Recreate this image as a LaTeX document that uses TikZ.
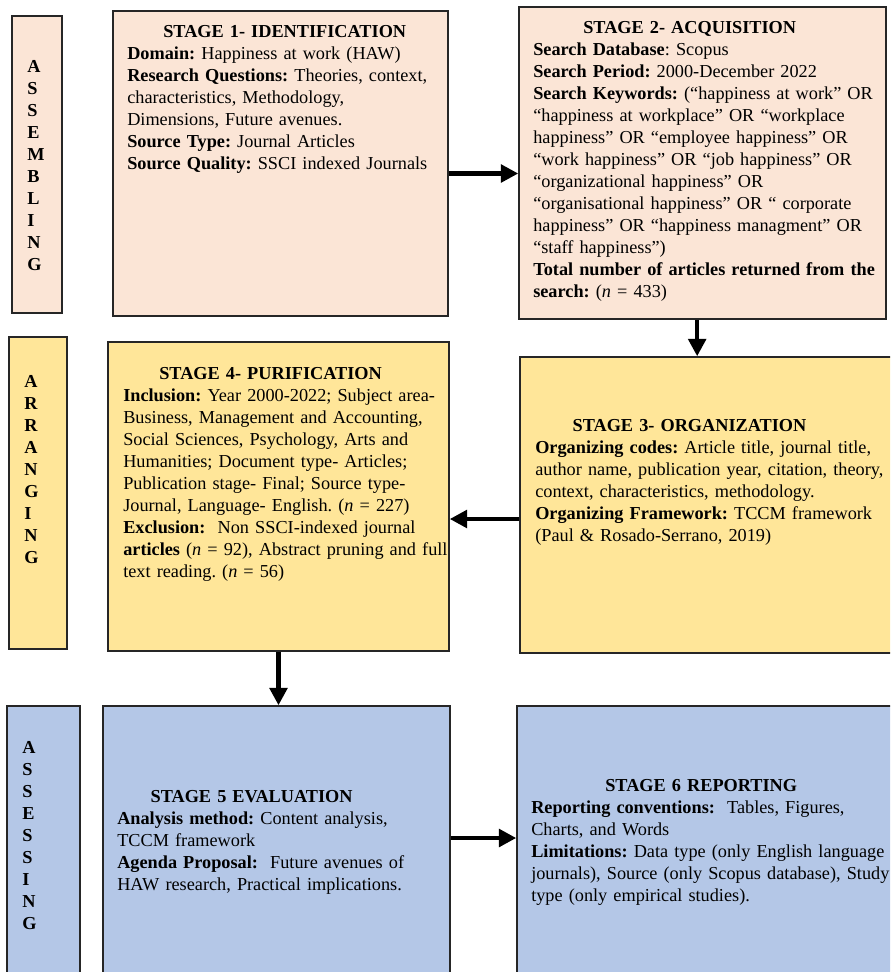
\documentclass[tikz,border=0pt]{standalone}
\usepackage{fontspec}
\setmainfont{Liberation Serif}
\usetikzlibrary{fit,arrows.meta}
\definecolor{peach}{HTML}{FBE5D6}
\definecolor{gold}{HTML}{FFE699}
\definecolor{skyblue}{HTML}{B4C7E7}

\begin{document}
\begin{tikzpicture}[x=0.75pt, y=-0.75pt,
			every node/.style = {font=\fontsize{13.7}{16.5}\selectfont\frenchspacing},
			stagebox/.style = {draw=black!85, line width=1.1pt, inner sep=0pt},
			stagetext/.style = {anchor=base west, align=left, text width=300pt, inner sep=0pt},
			phase/.style = {anchor=base west, align=left, text width=20pt, inner sep=0pt, font=\fontsize{13.7}{16.5}\selectfont\bfseries},
			flow/.style = {line width=3.4pt, -{Triangle[length=13pt,width=13pt]}}]
			\useasboundingbox (0,0) rectangle (890,972);
			\clip (0,0) rectangle (890,972);
			% phase boxes on the left
			\node[stagebox, fill=peach, fit={(12,16) (62,313)}] (asm) {};
			\node[stagebox, fill=gold, fit={(9,337) (67,649)}] (arr) {};
			\node[stagebox, fill=skyblue, fit={(7,706) (80,995)}] (ass) {};
			\node[phase] (asmtxt) at (27,72) {A\\S\\S\\E\\M\\B\\L\\I\\N\\G};
			\node[phase] (arrtxt) at (24,387) {A\\R\\R\\A\\N\\G\\I\\N\\G};
			\node[phase] (asstxt) at (22,753) {A\\S\\S\\E\\S\\S\\I\\N\\G};
			% stage boxes
			\node[stagebox, fill=peach, fit={(113,11) (448,316)}] (s1) {};
			\node[stagebox, fill=peach, fit={(519,7) (886,319)}] (s2) {};
			\node[stagebox, fill=gold, fit={(520,357) (895,653)}] (s3) {};
			\node[stagebox, fill=gold, fit={(108,342) (449,651)}] (s4) {};
			\node[stagebox, fill=skyblue, fit={(103,706) (450,995)}] (s5) {};
			\node[stagebox, fill=skyblue, fit={(517,706) (895,995)}] (s6) {};
			\node[stagetext] (s1txt) at (127,37) {\hspace*{27pt}\textbf{STAGE 1- IDENTIFICATION}\\
				\textbf{Domain:} Happiness at work (HAW)\\
				\textbf{Research Questions:} Theories, context,\\
				characteristics, Methodology,\\
				Dimensions, Future avenues.\\
				\textbf{Source Type:} Journal Articles\\
				\textbf{Source Quality:} SSCI indexed Journals};
			\node[stagetext] (s2txt) at (533,33) {\hspace*{37.5pt}\textbf{STAGE 2- ACQUISITION}\\
				\textbf{Search Database}: Scopus\\
				\textbf{Search Period:} 2000-December 2022\\
				\textbf{Search Keywords:} (“happiness at work” OR\\
				“happiness at workplace” OR “workplace\\
				happiness” OR “employee happiness” OR\\
				“work happiness” OR “job happiness” OR\\
				“organizational happiness” OR\\
				“organisational happiness” OR “ corporate\\
				happiness” OR “happiness managment” OR\\
				“staff happiness”)\\
				\textbf{Total number of articles returned from the}\\
				\textbf{search:} (\textit{n} = 433)};
			\node[stagetext] (s3txt) at (535,431) {\hspace*{28pt}\textbf{STAGE 3- ORGANIZATION}\\
				\textbf{Organizing codes:} Article title, journal title,\\
				author name, publication year, citation, theory,\\
				context, characteristics, methodology.\\
				\textbf{Organizing Framework:} TCCM framework\\
				(Paul \& Rosado-Serrano, 2019)};
			\node[stagetext] (s4txt) at (123,379) {\hspace*{27pt}\textbf{STAGE 4- PURIFICATION}\\
				\textbf{Inclusion:} Year 2000-2022; Subject area-\\
				Business, Management and Accounting,\\
				Social Sciences, Psychology, Arts and\\
				Humanities; Document type- Articles;\\
				Publication stage- Final; Source type-\\
				Journal, Language- English. (\textit{n} = 227)\\
				\textbf{Exclusion:}\ \ Non SSCI-indexed journal\\
				\textbf{articles} (\textit{n} = 92), Abstract pruning and full\\
				text reading. (\textit{n} = 56)};
			\node[stagetext] (s5txt) at (117,802) {\hspace*{25pt}\textbf{STAGE 5 EVALUATION}\\
				\textbf{Analysis method:} Content analysis,\\
				TCCM framework\\
				\textbf{Agenda Proposal:}\ \ Future avenues of\\
				HAW research, Practical implications.};
			\node[stagetext] (s6txt) at (531,791) {\hspace*{55.5pt}\textbf{STAGE 6 REPORTING}\\
				\textbf{Reporting conventions:}\ \ Tables, Figures,\\
				Charts, and Words\\
				\textbf{Limitations:} Data type (only English language\\
				journals), Source (only Scopus database), Study\\
				type (only empirical studies).};
			% arrows between stages
			\draw[flow] ([yshift=-7.5pt]s1.east) -- ([yshift=-7.5pt]s1.east -| s2.west);
			\draw[flow] ([xshift=-4pt]s2.south) -- ([xshift=-4pt]s2.south |- s3.north);
			\draw[flow] ([yshift=-10.5pt]s3.west) -- ([yshift=-10.5pt]s3.west -| s4.east);
			\draw[flow] (s4.south) -- (s4.south |- s5.north);
			\draw[flow] (s5.east |- 0,838) -- (s6.west |- 0,838);
		\end{tikzpicture}
\end{document}
